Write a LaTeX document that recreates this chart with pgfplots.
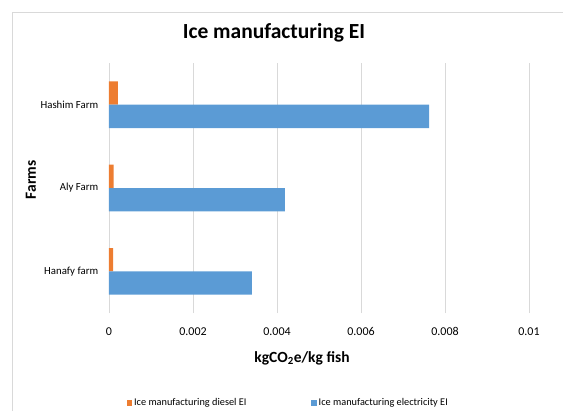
\documentclass[border=0pt]{standalone}
\usepackage{fontspec}
\setmainfont{Carlito}
\usepackage{pgfplots}
\pgfplotsset{compat=1.18}
\definecolor{dieselc}{HTML}{ED7D31}
\definecolor{elecc}{HTML}{5B9BD5}
\definecolor{gridc}{HTML}{D9D9D9}
\begin{document}
\begin{tikzpicture}
\begin{axis}[
  at={(0pt,0pt)}, anchor=south west,
  scale only axis, width=420pt, height=250pt,
  xbar, bar width=0.28,
  xmin=0, xmax=0.01, ymin=-0.5, ymax=2.5,
  scaled x ticks=false,
  ytick={0,1,2},
  yticklabels={Hanafy farm, Aly Farm, Hashim Farm},
  xtick={0,0.002,0.004,0.006,0.008,0.01},
  xticklabels={0,0.002,0.004,0.006,0.008,0.01},
  xmajorgrids, major grid style={gridc, line width=0.9pt},
  axis line style={draw=none},
  tick style={draw=none},
  /pgf/number format/assume math mode=true,
  xticklabel style={font=\fontsize{12}{14}\selectfont, yshift=-11pt},
  yticklabel style={font=\fontsize{10.8}{12}\selectfont, xshift=-3pt},
  legend columns=2,
  legend style={draw=none, fill=none, at={(0.035,-0.36)}, anchor=west,
    font=\fontsize{10.3}{12}\selectfont, /tikz/every even column/.append style={column sep=63pt}},
  legend image code/.code={\fill[#1] (0pt,-2.6pt) rectangle (5.2pt,2.6pt);},
]
\addplot[fill=dieselc, draw=none, bar shift=0.14] coordinates {(0.0001,0) (0.00011,1) (0.00021,2)};
\addlegendentry{Ice manufacturing diesel EI}
\addplot[fill=elecc, draw=none, bar shift=-0.14] coordinates {(0.0034,0) (0.00419,1) (0.00762,2)};
\addlegendentry{Ice manufacturing electricity EI}
\end{axis}
\begin{scope}[x=1pt,y=1pt]
\useasboundingbox (-109,-98) rectangle (454,313);
\draw[gridc, line width=0.9pt] (-96.5,-98) -- (-96.5,300.5);
\draw[gridc, line width=0.9pt] (-96.5,300.5) -- (454,300.5);
\node[font=\bfseries\fontsize{21.5}{24}\selectfont] at (165,280) {Ice manufacturing EI};
\node[font=\bfseries\fontsize{15.5}{18}\selectfont] at (193,-45) {kgCO\textsubscript{2}e/kg fish};
\node[font=\bfseries\fontsize{15.5}{18}\selectfont, rotate=90] at (-78,133) {Farms};
\end{scope}
\end{tikzpicture}
\end{document}
